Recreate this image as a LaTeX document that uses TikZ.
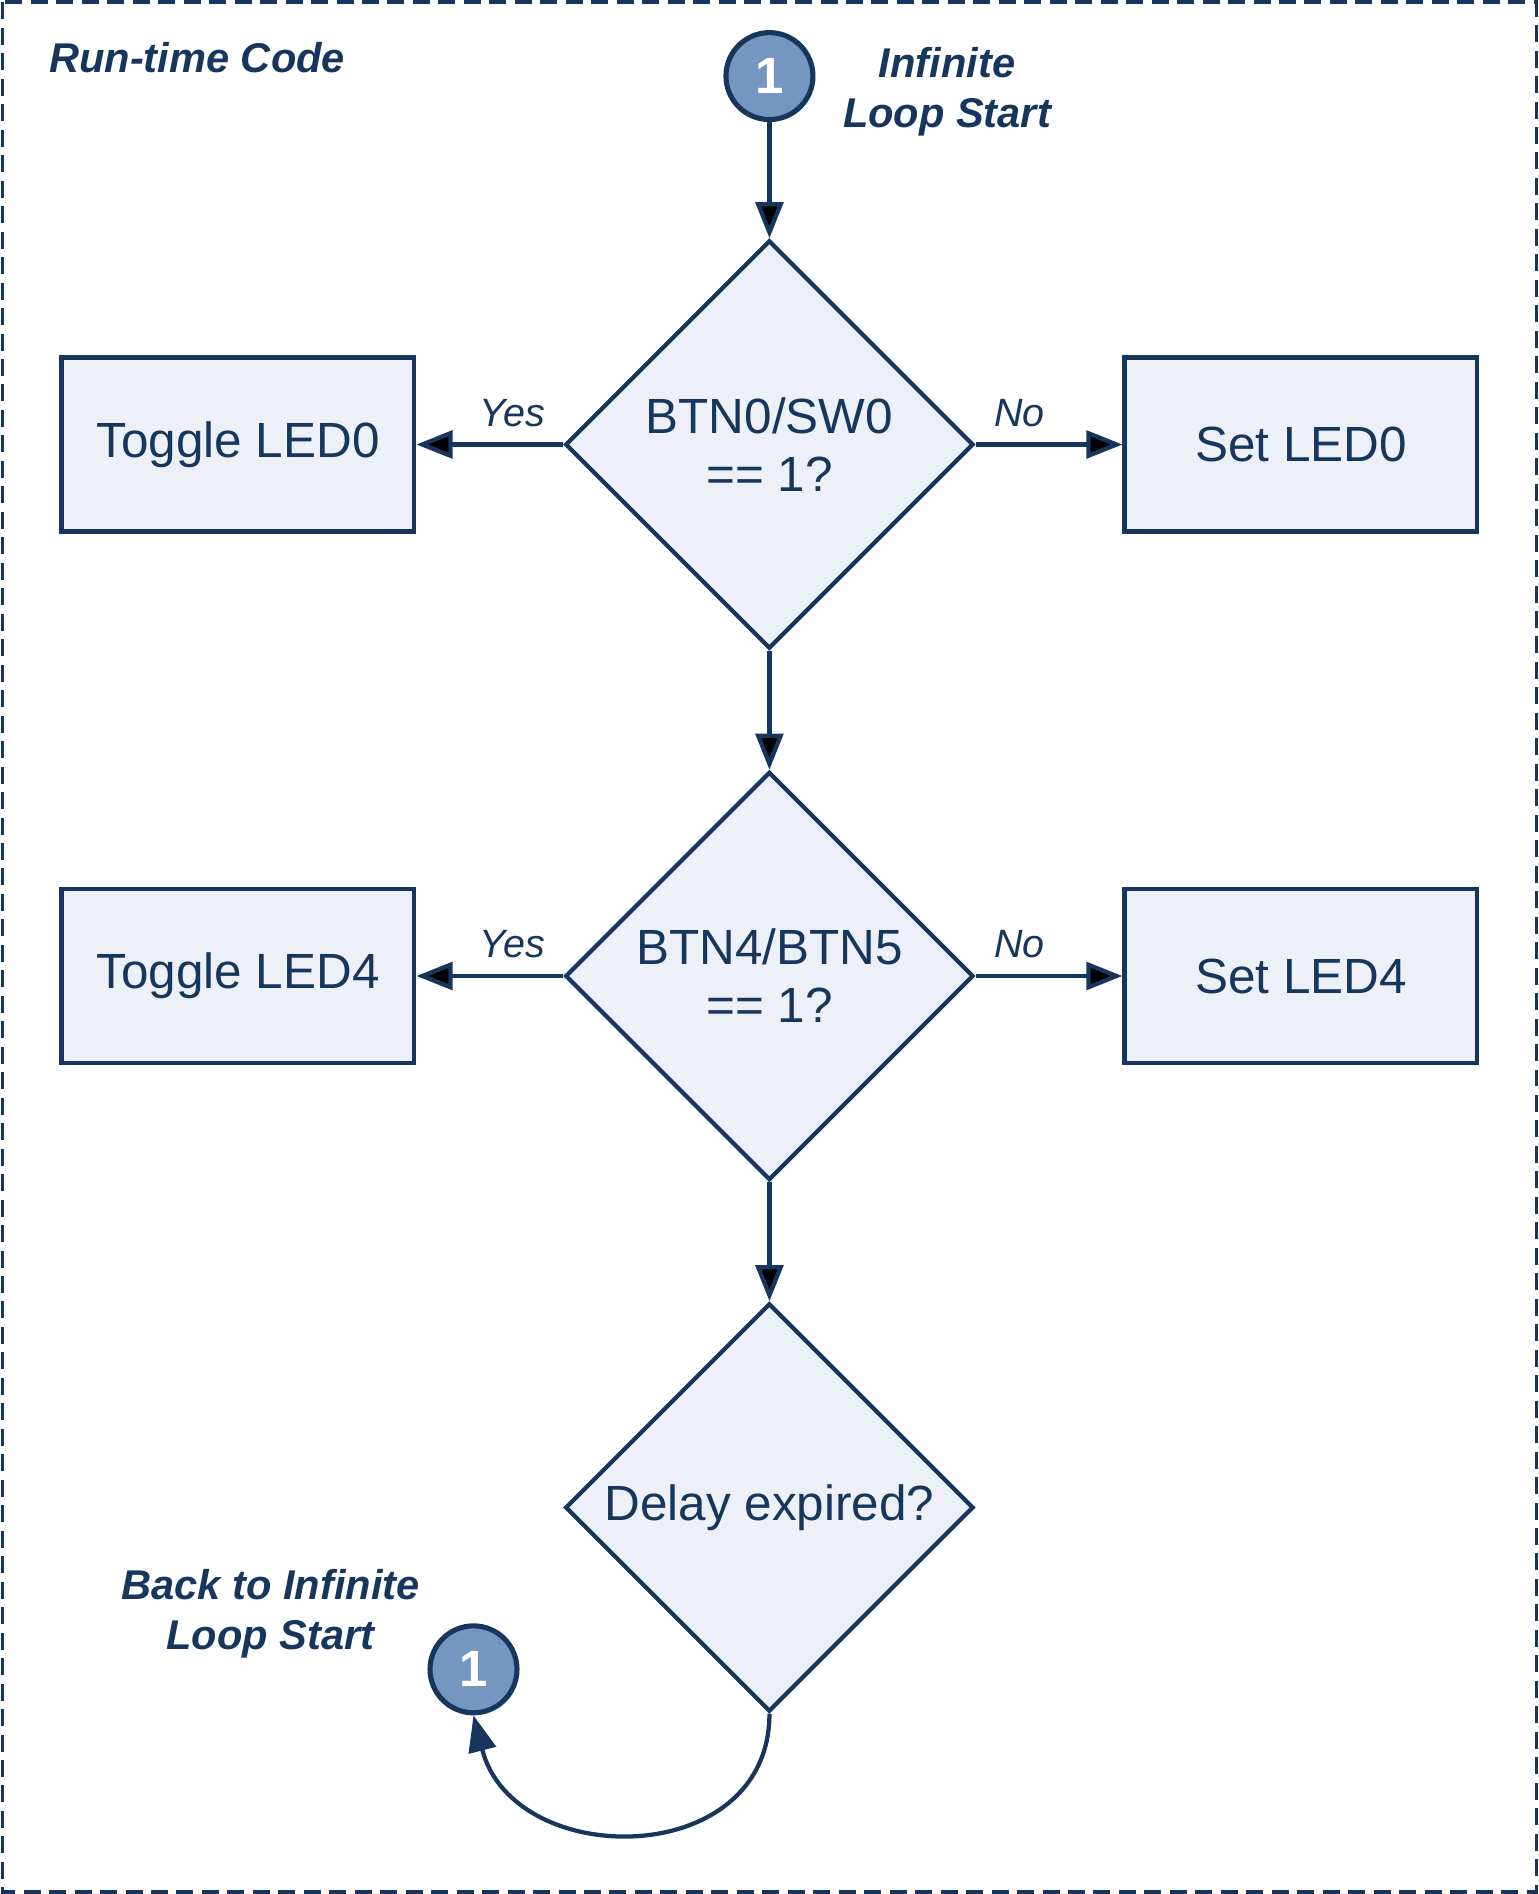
\documentclass[tikz,border=0pt]{standalone}
\usepackage{fontspec}
\setmainfont{Liberation Sans}
\usetikzlibrary{shapes.geometric,arrows.meta}
\definecolor{navy}{RGB}{23,54,93}
\definecolor{paleblue}{RGB}{237,241,247}
\definecolor{midblue}{RGB}{117,150,192}

\begin{document}
\begin{tikzpicture}[
	box/.style={draw=navy, fill=paleblue, line width=1pt, minimum width=2.92cm, minimum height=1.44cm, inner sep=0pt, text=navy, font=\fontsize{11.65}{13.7}\selectfont},
	decision/.style={diamond, draw=navy, fill=paleblue, line width=1pt, minimum width=3.38cm, minimum height=3.38cm, inner sep=0pt, align=center, text=navy, font=\fontsize{11.65}{13.7}\selectfont},
	conn/.style={circle, draw=navy, fill=midblue, line width=1.2pt, minimum size=0.72cm, inner sep=0pt, text=white, font=\fontsize{12}{14}\selectfont\bfseries},
	note/.style={text=navy, align=center, font=\fontsize{9.8}{11.7}\selectfont\bfseries\itshape},
	lbl/.style={text=navy, font=\fontsize{9.3}{11}\selectfont\itshape},
	flow/.style={-{Triangle[length=8.5pt,width=6.5pt]}, draw=navy, line width=1pt},
	frame/.style={draw=navy, line width=0.9pt, dash pattern=on 4pt off 2pt}
]
	\useasboundingbox (0,0) rectangle (12.74,-15.68);
	\draw[frame] (0.02,-0.02) rectangle (12.72,-15.66);

	\node[note, anchor=west, inner sep=0pt] (title) at (0.40,-0.48) {Run-time Code};

	\node[conn] (c1) at (6.37,-0.63) {1};
	\node[note] (start) at (7.84,-0.76) {Infinite\\Loop Start};

	\node[decision] (d1) at (6.37,-3.68) {BTN0/SW0\\== 1?};
	\node[box] (t0) at (1.97,-3.68) {Toggle LED0};
	\node[box] (s0) at (10.77,-3.68) {Set LED0};
	\node[lbl] (y1) at (4.24,-3.42) {Yes};
	\node[lbl] (n1) at (8.44,-3.42) {No};

	\node[decision] (d2) at (6.37,-8.08) {BTN4/BTN5\\== 1?};
	\node[box] (t4) at (1.97,-8.08) {Toggle LED4};
	\node[box] (s4) at (10.77,-8.08) {Set LED4};
	\node[lbl] (y2) at (4.24,-7.82) {Yes};
	\node[lbl] (n2) at (8.44,-7.82) {No};

	\node[decision] (d3) at (6.37,-12.48) {Delay expired?};
	\node[conn] (c2) at (3.92,-13.82) {1};
	\node[note] (back) at (2.24,-13.36) {Back to Infinite\\Loop Start};

	\path[flow] (c1) edge (d1);
	\path[flow] (d1) edge (t0);
	\path[flow] (d1) edge (s0);
	\path[flow] (d1) edge (d2);
	\path[flow] (d2) edge (t4);
	\path[flow] (d2) edge (s4);
	\path[flow] (d2) edge (d3);
	\draw[flow] (d3.south) .. controls +(0,-1.30) and +(0.33,-1.29) .. (c2.south);
\end{tikzpicture}
\end{document}
